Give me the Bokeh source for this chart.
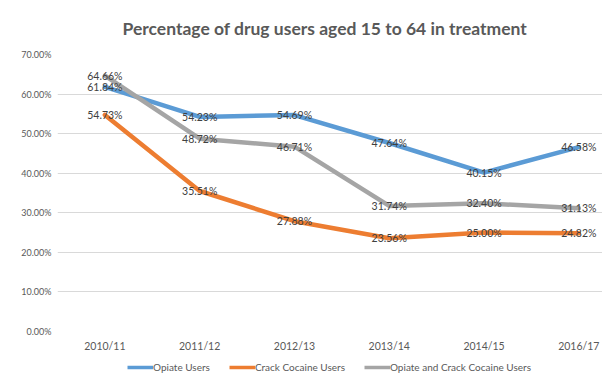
from bokeh.plotting import figure
from bokeh.layouts import column
from bokeh.models import Range1d, FixedTicker, Legend, LegendItem, Title
from bokeh.core.properties import value
from bokeh.embed import file_html
from bokeh.resources import INLINE

categories = ["2010/11", "2011/12", "2012/13", "2013/14", "2014/15", "2016/17"]
opiate = [61.84, 54.23, 54.69, 47.64, 40.15, 46.58]
crack = [54.73, 35.51, 27.88, 23.56, 25.00, 24.82]
both = [64.66, 48.72, 46.71, 31.74, 32.40, 31.13]
series_names = ["Opiate Users", "Crack Cocaine Users", "Opiate and Crack Cocaine Users"]
y_ticks = [0, 10, 20, 30, 40, 50, 60, 70]

FONT = "Lato"
colors = ["#5B9BD5", "#ED7D31", "#A5A5A5"]
xs = list(range(len(categories)))

p = figure(width=602, height=354, output_backend="svg", toolbar_location=None,
           x_range=Range1d(-0.5, 5.25), y_range=Range1d(0, 70),
           min_border_left=57, min_border_right=0, min_border_top=53, min_border_bottom=23)
p.outline_line_color = None
p.background_fill_color = "white"
p.border_fill_color = "white"

t = Title(text="Percentage of drug users aged 15 to 64 in treatment", align="left", offset=65,
          text_font=FONT, text_font_size="17.5px", text_font_style="bold", text_color="#595959",
          standoff=31)
p.add_layout(t, "above")

p.xgrid.grid_line_color = None
p.ygrid.grid_line_color = "#d9d9d9"
p.ygrid.grid_line_width = 1
p.yaxis.ticker = FixedTicker(ticks=y_ticks)
p.yaxis.major_label_overrides = {v: f"{v:.2f}%" for v in y_ticks}
p.yaxis.axis_line_color = None
p.yaxis.major_tick_line_color = None
p.yaxis.minor_tick_line_color = None
p.yaxis.major_tick_out = 0
p.yaxis.major_label_text_font = FONT
p.yaxis.major_label_text_font_size = "9px"
p.yaxis.major_label_text_color = "#595959"
p.yaxis.major_label_standoff = 6

p.xaxis.ticker = FixedTicker(ticks=xs)
p.xaxis.major_label_overrides = {i: c for i, c in enumerate(categories)}
p.xaxis.axis_line_color = None
p.xaxis.major_tick_line_color = None
p.xaxis.minor_tick_line_color = None
p.xaxis.major_tick_out = 0
p.xaxis.major_label_text_font = FONT
p.xaxis.major_label_text_font_size = "10.5px"
p.xaxis.major_label_text_color = "#595959"
p.xaxis.major_label_standoff = 8

for vals, col in zip([opiate, crack, both], colors):
    p.line(xs, vals, line_color=col, line_width=4.5, line_cap="round", line_join="round")

for vals in [opiate, crack, both]:
    p.text(xs, vals, text=[f"{v:.2f}%" for v in vals], text_align="center", text_baseline="middle",
           text_font=value(FONT), text_font_size="10.5px", text_color="#404040")

# legend strip below the chart (its series lines lie outside this strip's visible range)
p2 = figure(width=602, height=26, output_backend="svg", toolbar_location=None,
            x_range=Range1d(100, 702), y_range=Range1d(100, 126),
            min_border_left=0, min_border_right=0, min_border_top=0, min_border_bottom=0,
            x_axis_location=None, y_axis_location=None)
p2.outline_line_color = None
p2.grid.grid_line_color = None
p2.background_fill_color = "white"
p2.border_fill_color = "white"
leg_rs = [p2.line(xs, vals, line_color=col, line_width=3.5)
          for vals, col in zip([opiate, crack, both], colors)]
legend = Legend(items=[LegendItem(label=n, renderers=[r]) for n, r in zip(series_names, leg_rs)],
                orientation="horizontal", location=(70, 7), padding=0, margin=0,
                spacing=19, glyph_width=26, glyph_height=12, label_standoff=0, label_height=12,
                label_text_font=FONT, label_text_font_size="10px", label_text_color="#595959",
                background_fill_alpha=0, border_line_color=None)
p2.add_layout(legend, "center")

open("out.html", "w").write(file_html(column(p, p2, spacing=0), INLINE))
